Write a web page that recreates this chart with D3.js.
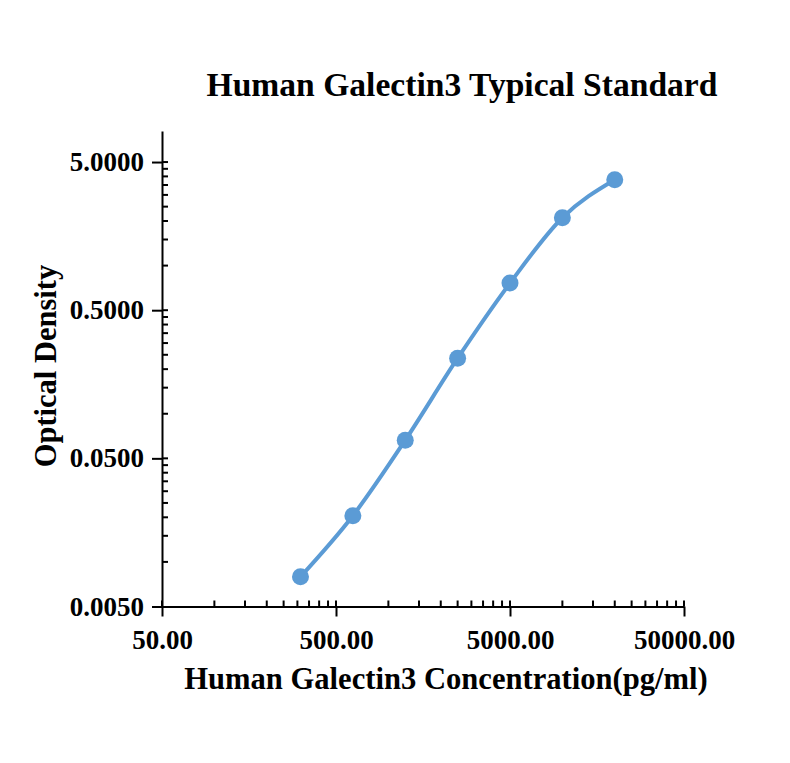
<!DOCTYPE html>
<html>
<head>
<meta charset="utf-8">
<script src="https://cdn.jsdelivr.net/npm/d3@7"></script>
<style>
  body { margin: 0; background: #fff; }
  svg { display: block; }
  .axis path, .axis line { stroke: #000; stroke-width: 2; }
  .axis text { font-family: "Liberation Serif", "Times New Roman", serif; font-weight: bold; font-size: 27px; fill: #000; }
  .lbl { font-family: "Liberation Serif", "Times New Roman", serif; font-weight: bold; fill: #000; }
</style>
</head>
<body>
<svg id="chart"></svg>
<script>
// standard concentrations (pg/ml) and measured OD
const concentrations = [312.5, 625, 1250, 2500, 5000, 10000, 20000];
const odValues = [0.00794, 0.0205, 0.0663, 0.237, 0.762, 2.105, 3.80];

const xTicks = [50, 500, 5000, 50000];
const yTicks = [0.005, 0.05, 0.5, 5];
const xDomain = [50, 50000];
const yDomain = [0.005, 8.1];

const width = 790, height = 763;
const svg = d3.select('#chart').attr('width', width).attr('height', height);

const x = d3.scaleLog().domain(xDomain).range([162, 684]);
const y = d3.scaleLog().domain(yDomain).range([606.5, 131]);

// minor ticks: k * 10^n of each major base, k = 2..9
const minors = (majors, limit) => {
  const out = [];
  majors.forEach(m => {
    for (let k = 2; k <= 9; k++) if (m * k < limit) out.push(m * k);
  });
  return out;
};
const xMinor = minors(xTicks, xDomain[1]);
const yMinor = minors(yTicks, yTicks[yTicks.length - 1]);

// x axis
const gx = svg.append('g')
  .attr('class', 'axis')
  .attr('transform', `translate(0,${y(yDomain[0])})`)
  .call(d3.axisBottom(x).tickValues(xTicks).tickSize(10).tickSizeOuter(0)
    .tickFormat(d3.format('.2f')).tickPadding(8));
gx.selectAll('.tick text').attr('dy', '0.9em');
gx.selectAll('.minor')
  .data(xMinor.concat(xTicks))
  .enter().append('line')
  .attr('x1', d => x(d)).attr('x2', d => x(d))
  .attr('y1', 0).attr('y2', -6);

// y axis
const gy = svg.append('g')
  .attr('class', 'axis')
  .attr('transform', `translate(${x(xDomain[0])},0)`)
  .call(d3.axisLeft(y).tickValues(yTicks).tickSize(10).tickSizeOuter(0)
    .tickFormat(d3.format('.4f')).tickPadding(8));
gy.selectAll('.minor')
  .data(yMinor.concat(yTicks.slice(1)))
  .enter().append('line')
  .attr('y1', d => y(d)).attr('y2', d => y(d))
  .attr('x1', 0).attr('x2', 6);

// curve + points
const pts = concentrations.map((c, i) => [c, odValues[i]]);
const line = d3.line()
  .x(d => x(d[0]))
  .y(d => y(d[1]))
  .curve(d3.curveMonotoneX);

svg.append('path')
  .datum(pts)
  .attr('d', line)
  .attr('fill', 'none')
  .attr('stroke', '#5b9bd5')
  .attr('stroke-width', 4);

svg.selectAll('circle')
  .data(pts)
  .enter().append('circle')
  .attr('cx', d => x(d[0]))
  .attr('cy', d => y(d[1]))
  .attr('r', 8.5)
  .attr('fill', '#5b9bd5');

// titles
svg.append('text').attr('class', 'lbl')
  .attr('x', 462).attr('y', 96)
  .attr('text-anchor', 'middle').style('font-size', '33.6px')
  .text('Human Galectin3 Typical Standard');

svg.append('text').attr('class', 'lbl')
  .attr('x', 446).attr('y', 689)
  .attr('text-anchor', 'middle').style('font-size', '30.6px')
  .text('Human Galectin3 Concentration(pg/ml)');

svg.append('text').attr('class', 'lbl')
  .attr('transform', 'translate(56,366) rotate(-90)')
  .attr('text-anchor', 'middle').style('font-size', '30.5px')
  .text('Optical Density');
</script>
</body>
</html>
